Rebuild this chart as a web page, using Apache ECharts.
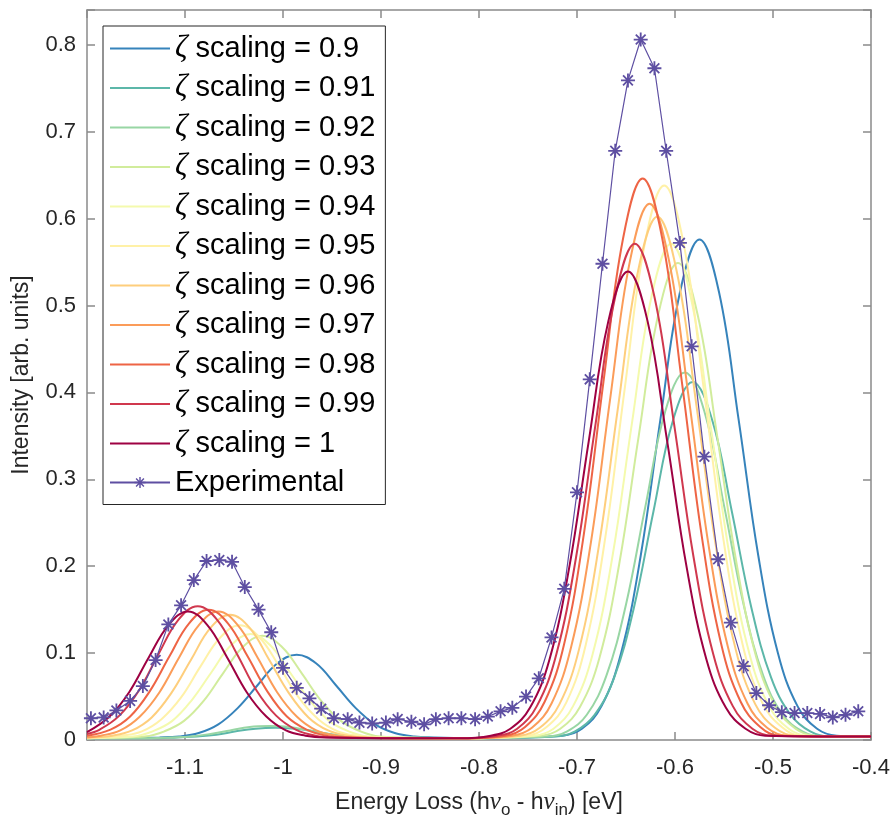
<!DOCTYPE html>
<html>
<head>
<meta charset="utf-8">
<script src="https://cdn.jsdelivr.net/npm/echarts@6/dist/echarts.min.js"></script>
<style>
html,body{margin:0;padding:0;background:#fff;}
#chart{width:893px;height:824px;}
</style>
</head>
<body>
<div id="chart"></div>
<script>
// ---- data ----
const scalingNames = ['0.9','0.91','0.92','0.93','0.94','0.95','0.96','0.97','0.98','0.99','1'];
const xTicks = [-1.2,-1.1,-1.0,-0.9,-0.8,-0.7,-0.6,-0.5,-0.4];
const yTicks = [0,0.1,0.2,0.3,0.4,0.5,0.6,0.7,0.8];

const s090 = [[-1.2,0.002],[-1.126,0.003],[-1.106,0.004],[-1.086,0.008],[-1.066,0.018],[-1.046,0.037],[-1.026,0.063],[-1.006,0.088],[-0.986,0.098],[-0.966,0.088],[-0.946,0.063],[-0.926,0.037],[-0.906,0.018],[-0.886,0.008],[-0.866,0.004],[-0.846,0.003],[-0.8,0.002],
  [-0.715,0.005],[-0.695,0.013],[-0.675,0.039],[-0.655,0.100],[-0.635,0.212],[-0.615,0.368],[-0.595,0.515],[-0.575,0.576],[-0.555,0.515],[-0.535,0.368],[-0.515,0.212],[-0.495,0.100],[-0.475,0.039],[-0.455,0.013],[-0.435,0.005],[-0.4,0.004]];
const s091 = [[-1.2,0.002],[-1.128,0.002],[-1.108,0.003],[-1.088,0.004],[-1.068,0.006],[-1.048,0.010],[-1.028,0.013],[-1.008,0.014],[-0.988,0.013],[-0.968,0.010],[-0.948,0.006],[-0.928,0.004],[-0.908,0.003],[-0.888,0.002],[-0.82,0.002],
  [-0.722,0.004],[-0.702,0.010],[-0.682,0.029],[-0.662,0.072],[-0.642,0.152],[-0.622,0.263],[-0.602,0.368],[-0.582,0.412],[-0.562,0.368],[-0.542,0.263],[-0.522,0.152],[-0.502,0.072],[-0.482,0.029],[-0.462,0.010],[-0.442,0.004],[-0.4,0.004]];
const s092 = [[-1.2,0.002],[-1.134,0.002],[-1.114,0.003],[-1.094,0.004],[-1.074,0.007],[-1.054,0.011],[-1.034,0.015],[-1.014,0.016],[-0.994,0.015],[-0.974,0.011],[-0.954,0.007],[-0.934,0.004],[-0.914,0.003],[-0.894,0.002],[-0.82,0.002],
  [-0.730,0.004],[-0.710,0.010],[-0.690,0.029],[-0.670,0.074],[-0.650,0.156],[-0.630,0.270],[-0.610,0.378],[-0.590,0.423],[-0.570,0.378],[-0.550,0.270],[-0.530,0.156],[-0.510,0.074],[-0.490,0.029],[-0.470,0.010],[-0.450,0.004],[-0.4,0.004]];
const s093 = [[-1.2,0.002],[-1.161,0.003],[-1.141,0.004],[-1.121,0.010],[-1.101,0.022],[-1.081,0.045],[-1.061,0.077],[-1.041,0.107],[-1.021,0.120],[-1.001,0.107],[-0.981,0.077],[-0.961,0.045],[-0.941,0.022],[-0.921,0.010],[-0.901,0.004],[-0.881,0.003],[-0.82,0.002],
  [-0.737,0.005],[-0.717,0.013],[-0.697,0.038],[-0.677,0.095],[-0.657,0.202],[-0.637,0.350],[-0.617,0.490],[-0.597,0.549],[-0.577,0.490],[-0.557,0.350],[-0.537,0.202],[-0.517,0.095],[-0.497,0.038],[-0.477,0.013],[-0.457,0.005],[-0.4,0.004]];
const s094 = [[-1.2,0.002],[-1.173,0.003],[-1.153,0.004],[-1.133,0.010],[-1.113,0.022],[-1.093,0.046],[-1.073,0.078],[-1.053,0.109],[-1.033,0.122],[-1.013,0.109],[-0.993,0.078],[-0.973,0.046],[-0.953,0.022],[-0.933,0.010],[-0.913,0.004],[-0.893,0.003],[-0.82,0.002],
  [-0.744,0.005],[-0.724,0.013],[-0.704,0.039],[-0.684,0.099],[-0.664,0.210],[-0.644,0.364],[-0.624,0.510],[-0.604,0.571],[-0.584,0.510],[-0.564,0.364],[-0.544,0.210],[-0.524,0.099],[-0.504,0.039],[-0.484,0.013],[-0.464,0.005],[-0.4,0.004]];
const s095 = [[-1.2,0.002],[-1.184,0.003],[-1.164,0.005],[-1.144,0.010],[-1.124,0.024],[-1.104,0.049],[-1.084,0.085],[-1.064,0.118],[-1.044,0.132],[-1.024,0.118],[-1.004,0.085],[-0.984,0.049],[-0.964,0.024],[-0.944,0.010],[-0.924,0.005],[-0.904,0.003],[-0.82,0.002],
  [-0.751,0.005],[-0.731,0.015],[-0.711,0.043],[-0.691,0.110],[-0.671,0.234],[-0.651,0.407],[-0.631,0.570],[-0.611,0.638],[-0.591,0.570],[-0.571,0.407],[-0.551,0.234],[-0.531,0.110],[-0.511,0.043],[-0.491,0.015],[-0.471,0.005],[-0.4,0.004]];
const s096 = [[-1.2,0.003],[-1.174,0.005],[-1.154,0.011],[-1.134,0.026],[-1.114,0.054],[-1.094,0.092],[-1.074,0.129],[-1.054,0.144],[-1.034,0.129],[-1.014,0.092],[-0.994,0.054],[-0.974,0.026],[-0.954,0.011],[-0.934,0.005],[-0.914,0.003],[-0.82,0.002],
  [-0.758,0.005],[-0.738,0.014],[-0.718,0.041],[-0.698,0.104],[-0.678,0.221],[-0.658,0.384],[-0.638,0.538],[-0.618,0.602],[-0.598,0.538],[-0.578,0.384],[-0.558,0.221],[-0.538,0.104],[-0.518,0.041],[-0.498,0.014],[-0.478,0.005],[-0.4,0.004]];
const s097 = [[-1.2,0.003],[-1.186,0.005],[-1.166,0.011],[-1.146,0.027],[-1.126,0.055],[-1.106,0.095],[-1.086,0.132],[-1.066,0.148],[-1.046,0.132],[-1.026,0.095],[-1.006,0.055],[-0.986,0.027],[-0.966,0.011],[-0.946,0.005],[-0.926,0.003],[-0.82,0.002],
  [-0.766,0.005],[-0.746,0.014],[-0.726,0.042],[-0.706,0.107],[-0.686,0.226],[-0.666,0.394],[-0.646,0.551],[-0.626,0.617],[-0.606,0.551],[-0.586,0.394],[-0.566,0.226],[-0.546,0.107],[-0.526,0.042],[-0.506,0.014],[-0.486,0.005],[-0.4,0.004]];
const s098 = [[-1.2,0.005],[-1.176,0.012],[-1.156,0.027],[-1.136,0.056],[-1.116,0.096],[-1.096,0.134],[-1.076,0.150],[-1.056,0.134],[-1.036,0.096],[-1.016,0.056],[-0.996,0.027],[-0.976,0.012],[-0.956,0.005],[-0.936,0.003],[-0.82,0.002],
  [-0.773,0.005],[-0.753,0.015],[-0.733,0.044],[-0.713,0.111],[-0.693,0.237],[-0.673,0.412],[-0.653,0.577],[-0.633,0.646],[-0.613,0.577],[-0.593,0.412],[-0.573,0.237],[-0.553,0.111],[-0.533,0.044],[-0.513,0.015],[-0.493,0.005],[-0.4,0.004]];
const s099 = [[-1.2,0.007],[-1.187,0.012],[-1.167,0.028],[-1.147,0.057],[-1.127,0.099],[-1.107,0.138],[-1.087,0.154],[-1.067,0.138],[-1.047,0.099],[-1.027,0.057],[-1.007,0.028],[-0.987,0.012],[-0.967,0.005],[-0.947,0.003],[-0.82,0.002],
  [-0.781,0.005],[-0.761,0.013],[-0.741,0.039],[-0.721,0.099],[-0.701,0.210],[-0.681,0.364],[-0.661,0.510],[-0.641,0.571],[-0.621,0.510],[-0.601,0.364],[-0.581,0.210],[-0.561,0.099],[-0.541,0.039],[-0.521,0.013],[-0.501,0.005],[-0.4,0.004]];
const s100 = [[-1.2,0.009],[-1.177,0.027],[-1.157,0.055],[-1.137,0.095],[-1.117,0.132],[-1.097,0.148],[-1.077,0.132],[-1.057,0.095],[-1.037,0.055],[-1.017,0.027],[-0.997,0.011],[-0.977,0.005],[-0.957,0.003],[-0.82,0.002],
  [-0.788,0.005],[-0.768,0.013],[-0.748,0.037],[-0.728,0.093],[-0.708,0.198],[-0.688,0.344],[-0.668,0.482],[-0.648,0.539],[-0.628,0.482],[-0.608,0.344],[-0.588,0.198],[-0.568,0.093],[-0.548,0.037],[-0.528,0.013],[-0.508,0.005],[-0.4,0.004]];

const expX = [-1.196,-1.183,-1.170,-1.156,-1.143,-1.130,-1.117,-1.104,-1.091,-1.078,-1.065,-1.052,-1.039,-1.025,-1.012,-1.000,-0.986,-0.973,-0.961,-0.948,-0.934,-0.922,-0.909,-0.895,-0.883,-0.869,-0.856,-0.844,-0.831,-0.818,-0.804,-0.791,-0.778,-0.766,-0.752,-0.739,-0.726,-0.713,-0.700,-0.687,-0.674,-0.661,-0.648,-0.635,-0.621,-0.609,-0.595,-0.583,-0.570,-0.556,-0.543,-0.530,-0.517,-0.504,-0.491,-0.478,-0.465,-0.452,-0.439,-0.426,-0.413];
const expY = [0.025,0.026,0.034,0.045,0.062,0.092,0.133,0.155,0.184,0.206,0.207,0.205,0.176,0.150,0.124,0.083,0.060,0.048,0.036,0.025,0.024,0.020,0.019,0.020,0.024,0.021,0.018,0.024,0.025,0.025,0.024,0.027,0.033,0.037,0.050,0.071,0.118,0.174,0.285,0.415,0.548,0.678,0.759,0.806,0.773,0.678,0.572,0.453,0.326,0.208,0.135,0.085,0.054,0.040,0.032,0.031,0.031,0.030,0.026,0.029,0.033];

const simData = [s090,s091,s092,s093,s094,s095,s096,s097,s098,s099,s100];
const simColors = ['#3683bb','#5cb7a9','#98d6a4','#d1ec9c','#f4faad','#fff1a7','#fece7c','#fb9c59','#ee6445','#d0384e','#9e0142'];
const expColor = '#5e4fa2';

// asterisk marker (plus + cross), as a filled path
const asterisk = 'path://M0 8.7L20 8.7L20 11.3L0 11.3Z M8.7 0L11.3 0L11.3 20L8.7 20Z M3.9 2.1L17.9 16.1L16.1 17.9L2.1 3.9Z M16.1 2.1L17.9 3.9L3.9 17.9L2.1 16.1Z';

const axisGray = '#8a8a8a';
const labelColor = '#262626';
const font = 'Liberation Sans, Arial, Helvetica, sans-serif';

const series = simData.map((d, i) => ({
  name: 'ζ scaling = ' + scalingNames[i],
  type: 'line',
  data: d,
  smooth: 0.4,
  symbol: 'none',
  lineStyle: { width: 2, color: simColors[i] },
  itemStyle: { color: simColors[i] },
  z: 2 + i,
  animation: false
}));
series.push({
  name: 'Experimental',
  type: 'line',
  data: expX.map((x, i) => [x, expY[i]]),
  symbol: asterisk,
  symbolSize: 14,
  lineStyle: { width: 1.2, color: expColor },
  itemStyle: { color: expColor, borderWidth: 0 },
  z: 20,
  animation: false
});

const legendData = series.map((s, i) => (i < simData.length
  ? { name: s.name, icon: 'path://M0 0L60 0L60 2.2L0 2.2Z', itemStyle: { color: simColors[i] } }
  : { name: s.name }));

const chart = echarts.init(document.getElementById('chart'), null, { renderer: 'canvas' });
chart.setOption({
  animation: false,
  backgroundColor: '#ffffff',
  grid: { left: 87, right: 22, top: 10, bottom: 81, containLabel: false },
  xAxis: [{
    type: 'value',
    min: xTicks[0], max: xTicks[xTicks.length - 1], interval: 0.1,
    axisLine: { show: true, onZero: false, lineStyle: { color: axisGray, width: 1.5 } },
    axisTick: { show: true, inside: true, length: 8, lineStyle: { color: axisGray, width: 1.5 } },
    splitLine: { show: false },
    axisLabel: {
      color: labelColor, fontSize: 22, fontFamily: font, margin: 17,
      formatter: v => (v < -1.19 ? '' : String(+v.toFixed(2)))
    },
    name: 'Energy Loss (h{nu|ν}{sub|o} - h{nu|ν}{sub|in}) [eV]',
    nameLocation: 'middle',
    nameGap: 46,
    nameTextStyle: {
      color: labelColor, fontSize: 23, fontFamily: font,
      rich: {
        nu: { fontFamily: 'Liberation Serif, DejaVu Serif, serif', fontStyle: 'italic', fontSize: 25, color: labelColor },
        sub: { fontFamily: font, fontSize: 17, padding: [16, 0, 0, 0], color: labelColor }
      }
    }
  }, {
    type: 'value', position: 'top',
    min: xTicks[0], max: xTicks[xTicks.length - 1], interval: 0.1,
    axisLine: { show: true, onZero: false, lineStyle: { color: axisGray, width: 1.5 } },
    axisTick: { show: true, inside: true, length: 8, lineStyle: { color: axisGray, width: 1.5 } },
    axisLabel: { show: false }, splitLine: { show: false }
  }],
  yAxis: [{
    type: 'value',
    min: 0, max: 0.84, interval: 0.1,
    axisLine: { show: true, onZero: false, lineStyle: { color: axisGray, width: 1.5 } },
    axisTick: { show: true, inside: true, length: 8, lineStyle: { color: axisGray, width: 1.5 } },
    splitLine: { show: false },
    axisLabel: {
      color: labelColor, fontSize: 22, fontFamily: font, margin: 11,
      formatter: v => (v > 0.81 ? '' : String(+v.toFixed(1)))
    },
    name: 'Intensity [arb. units]',
    nameLocation: 'middle',
    nameRotate: 90,
    nameGap: 54,
    nameTextStyle: { color: labelColor, fontSize: 23, fontFamily: font }
  }, {
    type: 'value', position: 'right',
    min: 0, max: 0.84, interval: 0.1,
    axisLine: { show: true, onZero: false, lineStyle: { color: axisGray, width: 1.5 } },
    axisTick: { show: true, inside: true, length: 8, lineStyle: { color: axisGray, width: 1.5 } },
    axisLabel: { show: false }, splitLine: { show: false }
  }],
  legend: {
    show: true,
    orient: 'vertical',
    left: 103, top: 26,
    padding: [7, 10, 7, 6],
    itemWidth: 60, itemHeight: 14, itemGap: 8.5,
    backgroundColor: '#ffffff',
    borderColor: '#262626', borderWidth: 1, borderRadius: 0,
    selectedMode: false,
    data: legendData,
    formatter: name => (name.charAt(0) === 'ζ' ? '{z|ζ}' + name.slice(1) : name),
    textStyle: {
      color: '#000', fontSize: 29, fontFamily: font, lineHeight: 30,
      rich: {
        z: { fontFamily: 'Liberation Serif, DejaVu Serif, serif', fontStyle: 'italic', fontSize: 31, lineHeight: 30, color: '#000' }
      }
    }
  },
  series: series
});
</script>
</body>
</html>
